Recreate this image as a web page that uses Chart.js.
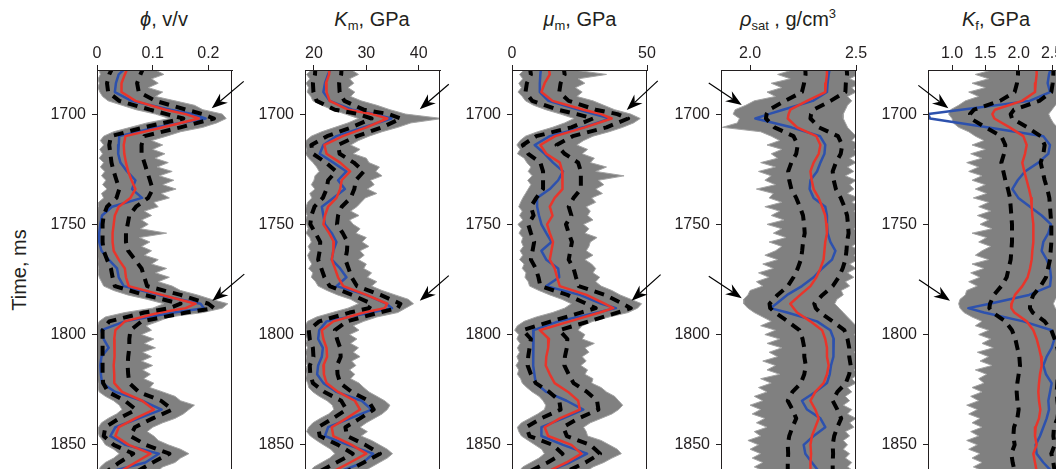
<!DOCTYPE html>
<html>
<head>
<meta charset="utf-8">
<title>Inversion results vs. time</title>
<script src="https://cdn.jsdelivr.net/npm/chart.js"></script>
<style>
  html, body { margin: 0; padding: 0; background: #fff; overflow: hidden; width: 1056px; height: 469px; }
  body { position: relative; font-family: 'Liberation Sans', Arial, sans-serif; color: #231f20; }
  canvas { position: absolute; top: 0; }
  .title { position: absolute; top: 7px; width: 200px; text-align: center; font-size: 20px; line-height: 24px; white-space: nowrap; }
  .title sub { font-size: 13px; vertical-align: -4px; line-height: 0; }
  .title sup { font-size: 13px; vertical-align: 8px; line-height: 0; }
  .ylab { position: absolute; left: 19px; top: 270px; transform: translate(-50%, -50%) rotate(-90deg); font-size: 20px; white-space: nowrap; }
</style>
</head>
<body>
<div class="ylab">Time, ms</div>
<div class="title" style="left:64px"><i>ϕ</i>, v/v</div>
<div class="title" style="left:272px"><i>K</i><sub>m</sub>, GPa</div>
<div class="title" style="left:480px"><i>μ</i><sub>m</sub>, GPa</div>
<div class="title" style="left:688px"><i>ρ</i><sub>sat</sub> , g/cm<sup>3</sup></div>
<div class="title" style="left:896px"><i>K</i><sub>f</sub>, GPa</div>

<canvas id="phi" width="215" height="511" style="left:42px"></canvas>
<canvas id="km" width="215" height="511" style="left:250px"></canvas>
<canvas id="mu" width="215" height="511" style="left:457px"></canvas>
<canvas id="rho" width="215" height="511" style="left:666px"></canvas>
<canvas id="kf" width="215" height="511" style="left:873px"></canvas>

<script>
// labelled times on the vertical axis
const timeTicks = [1700, 1750, 1800, 1850];

// time samples (ms) for the mean / true / bound curves
const tSmooth = [
  1678,1682,1686,1690,1694,1698,1700,1702,1706,1710,
  1714,1718,1722,1726,1730,1734,1738,1742,1746,1750,
  1754,1758,1762,1766,1770,1774,1778,1782,1786,1788,
  1790,1794,1798,1802,1806,1810,1814,1818,1822,1826,
  1830,1834,1838,1842,1846,1850,1854,1858,1862,1866
];

// time samples (ms) for the envelope of the realizations
const tBand = [
  1678,1680,1682,1684,1686,1688,1690,1692,1694,1696,
  1698,1700,1702,1704,1706,1708,1710,1712,1714,1716,
  1718,1720,1722,1724,1726,1728,1730,1732,1734,1736,
  1738,1740,1742,1744,1746,1748,1750,1752,1754,1756,
  1758,1760,1762,1764,1766,1768,1770,1772,1774,1776,
  1778,1780,1782,1784,1786,1788,1790,1792,1794,1796,
  1798,1800,1802,1804,1806,1808,1810,1812,1814,1816,
  1818,1820,1822,1824,1826,1828,1830,1832,1834,1836,
  1838,1840,1842,1844,1846,1848,1850,1852,1854,1856,
  1858,1860,1862,1864,1866
];

// porosity, v/v
const phiMean = [
  0.057,0.050,0.044,0.044,0.069,0.123,0.159,0.183,0.119,0.051,
  0.048,0.049,0.052,0.056,0.062,0.069,0.060,0.039,0.032,0.030,
  0.028,0.028,0.030,0.039,0.050,0.052,0.057,0.116,0.177,0.159,
  0.113,0.050,0.033,0.031,0.032,0.031,0.030,0.031,0.031,0.045,
  0.081,0.102,0.069,0.039,0.033,0.057,0.096,0.069,0.042,0.036
];
const phiTrue = [
  0.056,0.039,0.034,0.032,0.062,0.132,0.171,0.195,0.107,0.040,
  0.039,0.038,0.042,0.054,0.069,0.063,0.081,0.027,0.009,0.006,
  0.004,0.004,0.008,0.021,0.036,0.039,0.048,0.111,0.186,0.192,
  0.138,0.050,0.008,0.012,0.021,0.008,0.006,0.007,0.009,0.033,
  0.081,0.116,0.075,0.033,0.024,0.051,0.111,0.087,0.027,0.015
];
const phiLo = [
  0.030,0.022,0.018,0.020,0.040,0.095,0.125,0.155,0.085,0.025,
  0.022,0.024,0.026,0.030,0.035,0.040,0.035,0.018,0.012,0.010,
  0.010,0.010,0.012,0.018,0.025,0.028,0.032,0.085,0.150,0.130,
  0.085,0.022,0.010,0.010,0.010,0.010,0.010,0.010,0.011,0.020,
  0.050,0.070,0.040,0.015,0.012,0.030,0.065,0.040,0.018,0.015
];
const phiHi = [
  0.085,0.078,0.072,0.075,0.105,0.160,0.190,0.210,0.150,0.085,
  0.080,0.080,0.085,0.090,0.095,0.100,0.092,0.070,0.058,0.055,
  0.052,0.052,0.056,0.068,0.080,0.085,0.090,0.150,0.200,0.210,
  0.160,0.080,0.060,0.058,0.058,0.056,0.055,0.056,0.058,0.075,
  0.115,0.135,0.100,0.068,0.060,0.088,0.130,0.100,0.072,0.065
];
const phiEnvL = [
  0.010,0.004,0.006,0.002,0.004,0.002,0.005,0.010,0.020,0.045,
  0.070,0.105,0.130,0.090,0.060,0.030,0.012,0.006,0.012,0.005,
  0.010,0.004,0.012,0.006,0.014,0.008,0.016,0.010,0.018,0.008,
  0.012,0.003,0.002,0.001,0.000,0.001,0.000,0.001,0.000,0.001,
  0.000,0.001,0.000,0.001,0.002,0.001,0.003,0.002,0.004,0.008,
  0.012,0.030,0.055,0.090,0.120,0.100,0.050,0.015,0.004,0.001,
  0.000,0.001,0.000,0.001,0.000,0.001,0.000,0.001,0.000,0.001,
  0.000,0.001,0.002,0.002,0.004,0.015,0.030,0.040,0.045,0.035,
  0.020,0.008,0.003,0.002,0.004,0.010,0.015,0.030,0.040,0.030,
  0.015,0.006,0.003,0.002,0.002
];
const phiEnvR = [
  0.115,0.105,0.120,0.098,0.110,0.092,0.118,0.105,0.140,0.175,
  0.190,0.225,0.232,0.215,0.190,0.150,0.125,0.098,0.118,0.100,
  0.122,0.104,0.128,0.108,0.135,0.112,0.138,0.118,0.142,0.115,
  0.130,0.102,0.110,0.085,0.098,0.080,0.092,0.078,0.125,0.076,
  0.095,0.080,0.098,0.085,0.110,0.098,0.125,0.105,0.130,0.110,
  0.135,0.150,0.180,0.205,0.235,0.225,0.190,0.130,0.110,0.088,
  0.098,0.080,0.102,0.085,0.105,0.082,0.098,0.080,0.100,0.082,
  0.096,0.084,0.102,0.095,0.118,0.140,0.150,0.175,0.165,0.155,
  0.140,0.118,0.100,0.090,0.102,0.110,0.128,0.150,0.165,0.150,
  0.140,0.118,0.108,0.095,0.105
];

// mineral bulk modulus, GPa
const kmMean = [
  23.0,22.9,22.3,22.4,23.0,26.5,31.1,34.0,30.0,25.5,
  22.0,22.4,25.0,26.9,25.3,25.0,24.3,22.7,22.1,21.8,
  22.9,23.8,23.7,23.4,24.0,24.6,25.6,30.0,34.0,33.5,
  29.5,23.7,21.5,21.8,22.4,22.5,21.8,21.9,22.4,24.6,
  27.8,28.8,26.2,23.4,23.7,27.2,30.0,26.9,23.7,22.7
];
const kmTrue = [
  23.4,22.7,22.1,21.8,23.0,27.3,31.6,34.8,29.4,24.3,
  21.8,21.1,23.7,26.2,24.6,25.9,23.7,21.5,21.8,22.1,
  23.4,24.3,23.7,23.4,25.0,26.2,24.3,30.0,33.8,34.9,
  30.9,22.4,21.0,20.8,21.7,21.5,20.8,20.6,21.8,24.3,
  29.1,31.0,26.9,22.7,22.1,26.5,31.3,29.4,25.0,23.0
];
const kmLo = [
  20.3,20.2,19.8,19.9,20.5,24.0,28.5,31.0,27.2,22.5,
  19.5,19.8,22.3,24.2,22.7,22.4,21.7,20.1,19.5,19.3,
  20.3,21.2,21.1,20.8,21.4,22.0,23.0,27.3,31.0,30.5,
  26.8,21.0,19.0,19.2,19.8,19.9,19.2,19.3,19.8,22.0,
  25.2,26.2,23.6,20.8,21.1,24.6,27.4,24.3,21.1,20.1
];
const kmHi = [
  25.3,25.2,24.8,24.9,25.8,29.5,34.3,36.6,33.0,28.2,
  24.6,24.9,27.6,29.5,28.0,27.7,27.0,25.3,24.6,24.4,
  25.5,26.4,26.3,26.0,26.6,27.2,28.2,32.7,36.5,36.0,
  32.4,26.3,24.0,24.4,25.0,25.1,24.4,24.5,25.0,27.2,
  30.4,31.4,28.8,26.0,26.3,29.8,32.6,29.5,26.3,25.3
];
const kmEnvL = [
  18.8,19.5,18.6,19.2,18.5,19.0,18.7,19.4,19.8,21.5,
  23.5,26.0,28.5,26.5,24.0,21.5,19.5,18.5,18.3,18.6,
  18.4,19.0,19.8,20.5,21.0,20.2,20.0,19.5,20.2,19.2,
  19.6,18.8,18.5,18.3,18.7,18.4,18.6,18.9,18.5,19.2,
  19.5,18.9,19.3,18.8,19.1,19.6,19.0,19.8,19.5,20.3,
  20.8,22.5,24.5,27.0,28.5,26.5,23.5,20.5,18.8,18.3,
  18.5,18.3,18.7,18.4,18.8,18.3,18.6,18.4,18.7,18.3,
  18.6,18.4,18.8,19.0,19.8,21.0,22.5,23.5,23.8,22.8,
  21.2,19.8,19.0,18.6,19.3,20.5,21.8,23.2,24.0,23.0,
  21.5,20.0,19.2,18.8,18.5
];
const kmEnvR = [
  28.0,27.2,28.5,26.8,27.6,26.5,27.8,27.0,29.0,32.0,
  34.5,37.5,44.5,38.5,36.0,33.0,30.5,28.5,27.0,28.8,
  27.5,30.0,30.5,32.5,31.8,33.0,30.8,31.5,30.2,32.0,
  29.8,29.0,28.2,27.0,28.6,26.8,27.5,28.8,28.0,30.0,
  29.2,30.5,28.8,29.6,28.5,30.0,29.5,31.0,30.2,32.0,
  31.0,33.0,35.5,38.0,39.0,37.5,36.0,32.0,29.5,27.5,
  28.6,26.8,28.2,27.0,28.5,27.5,28.8,27.2,28.0,26.8,
  27.8,27.0,28.6,29.5,30.5,32.0,33.5,34.5,34.0,33.0,
  31.5,30.0,28.8,30.2,29.0,31.0,32.5,34.0,35.0,34.0,
  32.5,31.0,29.5,28.5,28.0
];

// mineral shear modulus, GPa
const muMean = [
  13.4,14.0,12.1,10.9,15.0,26.5,33.0,36.9,27.0,16.0,
  10.5,12.7,17.7,18.6,18.7,18.7,15.8,14.0,15.0,13.0,
  14.0,15.2,14.6,14.0,15.8,16.7,17.7,27.6,34.3,37.5,
  32.5,21.4,10.3,13.7,13.4,12.7,12.5,14.0,15.8,20.8,
  24.5,25.1,17.7,12.1,13.4,22.0,25.7,20.2,13.4,11.5
];
const muTrue = [
  10.9,10.5,10.3,10.3,13.5,24.8,30.3,36.5,26.4,14.0,
  8.4,12.1,15.2,18.9,17.1,14.0,9.3,9.3,10.0,10.9,
  12.7,14.6,10.9,12.7,17.1,17.5,12.7,25.1,33.2,38.5,
  31.6,17.2,8.0,7.8,7.8,7.8,8.0,8.3,8.8,12.7,
  20.2,26.4,18.9,10.9,10.9,18.9,27.8,21.4,13.4,11.5
];
const muLo = [
  6.5,7.0,5.5,5.0,7.5,17.0,24.0,30.0,22.0,9.0,
  4.0,6.0,10.5,11.5,11.5,11.5,9.0,7.0,8.0,6.0,
  7.0,8.2,7.6,7.0,8.8,9.8,10.5,20.5,27.5,31.0,
  25.5,14.5,4.0,7.0,6.5,6.0,5.8,7.0,8.8,13.8,
  17.5,18.0,10.8,5.3,6.5,15.0,18.7,13.2,6.5,5.0
];
const muHi = [
  19.0,19.5,18.0,17.5,21.0,31.0,39.0,43.0,35.0,22.5,
  16.5,19.5,24.5,25.5,25.5,25.5,22.8,21.0,22.0,20.0,
  21.0,22.2,21.6,21.0,22.8,23.7,24.7,34.5,41.0,44.0,
  39.0,28.5,17.5,20.5,20.3,19.6,19.4,21.0,22.8,27.8,
  31.5,32.0,24.6,19.0,20.3,29.0,32.6,27.2,20.3,18.5
];
const muEnvL = [
  3.0,4.5,2.8,4.0,2.5,3.5,2.2,3.8,5.0,8.0,
  12.5,18.0,23.0,19.5,15.0,9.5,5.0,3.0,1.8,3.0,
  2.0,4.5,5.5,7.0,6.0,7.5,5.8,7.0,6.0,5.0,
  4.0,3.2,2.5,3.8,2.8,4.0,2.2,3.5,2.6,4.0,
  3.5,4.2,3.0,4.0,2.8,4.5,3.8,5.2,4.8,6.0,
  6.5,10.0,14.0,18.5,22.0,19.5,15.0,9.0,4.5,2.0,
  1.0,2.5,1.8,3.0,2.0,2.8,1.8,2.5,1.5,2.5,
  2.0,3.2,3.8,5.5,7.5,10.0,11.5,12.5,12.0,9.5,
  6.5,3.5,2.0,2.5,3.5,6.0,8.5,11.0,12.0,10.0,
  7.0,4.0,2.5,2.0,1.8
];
const muEnvR = [
  25.0,23.0,35.0,24.5,27.0,23.5,26.0,24.0,30.0,34.0,
  38.0,44.0,47.5,45.0,41.0,36.0,30.0,26.5,24.0,28.0,
  26.0,30.5,29.0,35.0,31.0,41.5,32.0,34.0,31.0,33.5,
  29.5,31.0,27.5,29.0,28.0,30.0,26.5,28.5,27.0,31.5,
  29.0,28.5,27.5,30.0,27.0,29.5,31.0,30.0,32.5,31.0,
  33.0,37.0,40.0,44.0,48.0,46.5,43.0,36.0,30.0,26.0,
  24.5,27.0,26.0,30.5,27.0,28.5,26.0,27.5,25.5,28.0,
  27.0,30.0,29.5,33.0,35.0,38.0,39.5,41.0,39.5,37.0,
  33.0,29.0,26.5,27.5,28.0,33.0,36.0,39.0,40.5,37.0,
  34.0,30.0,27.5,26.0,25.0
];

// saturated density, g/cm3
const rhoMean = [
  2.363,2.363,2.358,2.355,2.269,2.190,2.182,2.178,2.222,2.313,
  2.332,2.324,2.300,2.285,2.291,2.300,2.324,2.340,2.355,2.360,
  2.363,2.355,2.351,2.347,2.332,2.313,2.285,2.237,2.190,2.206,
  2.222,2.285,2.340,2.355,2.363,2.363,2.371,2.363,2.347,2.308,
  2.285,2.308,2.324,2.308,2.292,2.285,2.288,2.285,2.285,2.281
];
const rhoTrue = [
  2.379,2.371,2.366,2.363,2.296,2.156,2.088,2.025,2.195,2.330,
  2.355,2.351,2.332,2.316,2.285,2.281,2.300,2.355,2.363,2.363,
  2.366,2.379,2.403,2.387,2.340,2.300,2.245,2.175,2.124,2.096,
  2.175,2.316,2.379,2.395,2.395,2.392,2.382,2.376,2.363,2.308,
  2.245,2.269,2.332,2.355,2.300,2.253,2.261,2.292,2.324,2.340
];
const rhoLo = [
  2.260,2.262,2.255,2.245,2.165,2.090,2.078,2.075,2.115,2.205,
  2.225,2.218,2.195,2.180,2.185,2.195,2.218,2.235,2.250,2.255,
  2.258,2.250,2.246,2.240,2.225,2.205,2.178,2.130,2.092,2.095,
  2.118,2.178,2.233,2.248,2.256,2.256,2.263,2.256,2.240,2.200,
  2.178,2.200,2.218,2.200,2.185,2.178,2.180,2.178,2.178,2.175
];
const rhoHi = [
  2.455,2.458,2.452,2.450,2.380,2.300,2.288,2.285,2.325,2.415,
  2.435,2.428,2.405,2.390,2.395,2.405,2.428,2.445,2.458,2.462,
  2.465,2.458,2.455,2.450,2.437,2.418,2.390,2.342,2.303,2.310,
  2.330,2.390,2.445,2.460,2.468,2.468,2.475,2.468,2.452,2.412,
  2.390,2.412,2.430,2.412,2.397,2.390,2.392,2.390,2.390,2.386
];
const rhoEnvL = [
  2.16,2.20,2.13,2.19,2.10,2.15,2.08,2.12,2.02,1.98,
  1.93,1.92,1.95,1.94,1.87,2.05,2.10,2.14,2.08,2.15,
  2.10,2.13,2.05,2.12,2.04,2.10,2.07,2.12,2.03,2.11,
  2.09,2.15,2.07,2.14,2.10,2.16,2.08,2.15,2.11,2.17,
  2.09,2.15,2.12,2.07,2.13,2.06,2.11,2.04,2.09,2.03,
  2.06,2.00,1.99,1.97,1.97,1.99,2.02,2.06,2.10,2.05,
  2.12,2.07,2.14,2.08,2.15,2.09,2.13,2.06,2.12,2.08,
  2.14,2.05,2.10,2.04,2.08,2.02,2.06,2.00,2.05,2.01,
  2.07,2.03,2.08,2.02,2.05,1.99,2.04,2.00,2.05,2.01,
  2.06,2.02,2.07,2.03,2.05
];
const rhoEnvR = [
  2.52,2.49,2.51,2.47,2.52,2.48,2.50,2.46,2.48,2.46,
  2.45,2.44,2.44,2.45,2.46,2.48,2.50,2.48,2.52,2.49,
  2.51,2.47,2.50,2.46,2.49,2.45,2.50,2.47,2.49,2.46,
  2.51,2.48,2.52,2.49,2.51,2.50,2.52,2.49,2.52,2.50,
  2.51,2.48,2.52,2.49,2.51,2.47,2.50,2.46,2.49,2.45,
  2.47,2.43,2.44,2.41,2.40,2.42,2.44,2.46,2.48,2.50,
  2.52,2.49,2.52,2.50,2.52,2.49,2.52,2.50,2.52,2.49,
  2.51,2.48,2.50,2.46,2.48,2.45,2.47,2.44,2.48,2.46,
  2.50,2.47,2.49,2.45,2.47,2.44,2.46,2.44,2.47,2.45,
  2.48,2.46,2.49,2.47,2.48
];

// fluid bulk modulus, GPa
const kfMean = [
  2.270,2.270,2.255,2.245,2.050,1.645,1.605,1.635,1.865,2.070,
  2.120,2.095,2.055,2.085,2.120,2.155,2.185,2.195,2.205,2.220,
  2.220,2.220,2.205,2.195,2.170,2.135,2.055,1.945,1.895,1.890,
  1.935,2.120,2.220,2.270,2.305,2.335,2.345,2.320,2.305,2.295,
  2.305,2.325,2.305,2.255,2.245,2.270,2.220,2.245,2.270,2.285
];
const kfTrue = [
  2.495,2.455,2.435,2.470,2.165,1.140,0.645,0.670,1.525,2.370,
  2.470,2.445,2.295,2.095,1.985,1.905,1.995,2.170,2.345,2.485,
  2.445,2.370,2.345,2.420,2.470,2.485,2.470,2.155,1.565,1.245,
  1.480,2.070,2.495,2.535,2.495,2.420,2.370,2.410,2.495,2.470,
  2.445,2.455,2.420,2.370,2.320,2.255,2.270,2.370,2.495,2.545
];
const kfLo = [
  1.99,1.99,1.975,1.94,1.72,1.33,1.27,1.28,1.50,1.74,
  1.80,1.78,1.74,1.77,1.80,1.84,1.87,1.88,1.89,1.90,
  1.90,1.90,1.89,1.88,1.85,1.82,1.74,1.63,1.57,1.56,
  1.61,1.80,1.90,1.95,1.98,2.01,2.02,2.00,1.98,1.97,
  1.98,2.00,1.98,1.93,1.92,1.94,1.89,1.91,1.94,1.96
];
const kfHi = [
  2.52,2.52,2.51,2.49,2.31,1.93,1.88,1.90,2.13,2.33,
  2.39,2.37,2.33,2.36,2.39,2.43,2.46,2.47,2.48,2.49,
  2.49,2.49,2.48,2.47,2.44,2.41,2.33,2.22,2.17,2.17,
  2.21,2.39,2.49,2.54,2.58,2.61,2.62,2.59,2.58,2.57,
  2.58,2.60,2.58,2.53,2.52,2.54,2.49,2.52,2.54,2.56
];
const kfEnvL = [
  1.45,1.60,1.35,1.55,1.30,1.50,1.25,1.40,1.20,1.10,
  0.98,0.95,1.00,1.02,1.10,1.25,1.35,1.48,1.30,1.50,
  1.28,1.45,1.22,1.40,1.25,1.45,1.30,1.50,1.35,1.52,
  1.32,1.55,1.40,1.58,1.38,1.55,1.42,1.60,1.30,1.52,
  1.40,1.58,1.45,1.35,1.55,1.30,1.48,1.28,1.42,1.25,
  1.38,1.22,1.20,1.12,1.10,1.12,1.18,1.30,1.45,1.35,
  1.55,1.40,1.58,1.45,1.62,1.38,1.55,1.42,1.60,1.35,
  1.52,1.40,1.48,1.30,1.45,1.28,1.40,1.22,1.38,1.25,
  1.42,1.30,1.45,1.28,1.40,1.22,1.38,1.25,1.42,1.30,
  1.45,1.32,1.48,1.35,1.45
];
const kfEnvR = [
  2.80,2.72,2.85,2.75,2.82,2.70,2.78,2.68,2.62,2.55,
  2.50,2.45,2.48,2.52,2.58,2.65,2.75,2.70,2.82,2.74,
  2.85,2.72,2.80,2.70,2.84,2.73,2.78,2.70,2.86,2.75,
  2.82,2.72,2.85,2.76,2.80,2.71,2.84,2.74,2.80,2.72,
  2.86,2.75,2.80,2.70,2.83,2.74,2.78,2.70,2.76,2.68,
  2.72,2.65,2.60,2.55,2.52,2.55,2.60,2.68,2.75,2.80,
  2.86,2.78,2.88,2.80,2.90,2.82,2.88,2.80,2.86,2.78,
  2.85,2.76,2.84,2.75,2.82,2.74,2.85,2.76,2.86,2.78,
  2.84,2.75,2.82,2.74,2.80,2.72,2.82,2.74,2.84,2.76,
  2.82,2.75,2.85,2.78,2.84
];

const INK = '#231f20';
const FONT = "'Liberation Sans', Arial, sans-serif";

// axis setup for each track; arrows mark the two events (tip in data units, tail offset in px)
const tracks = [
  { id: 'phi', min: 0, max: 0.2424, step: 0.1, fmt: v => String(v),
    mean: phiMean, truth: phiTrue, lo: phiLo, hi: phiHi, envL: phiEnvL, envR: phiEnvR,
    arrows: [{ x: 0.206, t: 1697.4, dx: 32, dy: -27 }, { x: 0.207, t: 1784.8, dx: 32, dy: -27 }] },
  { id: 'km', min: 18.29, max: 44.06, step: 10, fmt: v => String(v),
    mean: kmMean, truth: kmTrue, lo: kmLo, hi: kmHi, envL: kmEnvL, envR: kmEnvR,
    arrows: [{ x: 40.2, t: 1697.8, dx: 29, dy: -25 }, { x: 40.2, t: 1784.6, dx: 29, dy: -25 }] },
  { id: 'mu', min: 0, max: 50, step: 50, fmt: v => String(v),
    mean: muMean, truth: muTrue, lo: muLo, hi: muHi, envL: muEnvL, envR: muEnvR,
    arrows: [{ x: 42.5, t: 1698.1, dx: 31, dy: -29 }, { x: 44.3, t: 1784.6, dx: 29, dy: -26 }] },
  { id: 'rho', min: 1.863, max: 2.5, step: 0.5, fmt: v => v.toFixed(1),
    mean: rhoMean, truth: rhoTrue, lo: rhoLo, hi: rhoHi, envL: rhoEnvL, envR: rhoEnvR,
    arrows: [{ x: 1.961, t: 1695.9, dx: -33, dy: -22 }, { x: 1.961, t: 1783.5, dx: -33, dy: -22 }] },
  { id: 'kf', min: 0.64, max: 2.665, step: 0.5, fmt: v => v.toFixed(1),
    mean: kfMean, truth: kfTrue, lo: kfLo, hi: kfHi, envL: kfEnvL, envR: kfEnvR,
    arrows: [{ x: 0.945, t: 1697.4, dx: -30, dy: -23 }, { x: 0.97, t: 1784.6, dx: -31, dy: -21 }] }
];

const pts = (vals, times) => vals.map((v, i) => ({ x: v, y: times[i] }));

function drawArrow(ctx, tx, ty, fx, fy) {
  const ang = Math.atan2(ty - fy, tx - fx);
  const len = 16, half = 6, notch = 5;
  ctx.beginPath();
  ctx.moveTo(fx, fy);
  ctx.lineTo(tx - Math.cos(ang) * (len - notch), ty - Math.sin(ang) * (len - notch));
  ctx.stroke();
  ctx.save();
  ctx.translate(tx, ty);
  ctx.rotate(ang);
  ctx.beginPath();
  ctx.moveTo(0, 0);
  ctx.lineTo(-len, -half);
  ctx.lineTo(-len + notch, 0);
  ctx.lineTo(-len, half);
  ctx.closePath();
  ctx.fill();
  ctx.restore();
}

// box around the plot area plus the event arrows
const trackFrame = {
  id: 'trackFrame',
  afterDatasetsDraw(chart) {
    const { ctx, chartArea: a } = chart;
    ctx.save();
    ctx.strokeStyle = INK;
    ctx.lineWidth = 1;
    ctx.beginPath();
    ctx.moveTo(a.left + 0.5, a.bottom);
    ctx.lineTo(a.left + 0.5, a.top + 0.5);
    ctx.lineTo(a.right - 0.5, a.top + 0.5);
    ctx.lineTo(a.right - 0.5, a.bottom);
    ctx.stroke();
    ctx.restore();
  },
  afterDraw(chart, args, opts) {
    const { ctx, scales } = chart;
    ctx.save();
    ctx.strokeStyle = '#000';
    ctx.fillStyle = '#000';
    ctx.lineWidth = 1.2;
    (opts.arrows || []).forEach(a => {
      const tx = scales.x.getPixelForValue(a.x);
      const ty = scales.y.getPixelForValue(a.t);
      drawArrow(ctx, tx, ty, tx + a.dx, ty + a.dy);
    });
    ctx.restore();
  }
};

tracks.forEach(tr => {
  const line = (data, color, width, dash) => ({
    data, borderColor: color, borderWidth: width, borderDash: dash || [],
    pointRadius: 0, fill: false, clip: 0, borderCapStyle: 'butt', borderJoinStyle: 'round'
  });
  new Chart(document.getElementById(tr.id), {
    type: 'line',
    data: {
      datasets: [
        line(pts(tr.lo, tSmooth), '#000', 4, [10, 7]),
        line(pts(tr.hi, tSmooth), '#000', 4, [10, 7]),
        line(pts(tr.mean, tSmooth), '#e8352b', 2.5),
        line(pts(tr.truth, tSmooth), '#2d51ad', 2.5),
        line(pts(tr.envL, tBand), '#a3a3a3', 1),
        Object.assign(line(pts(tr.envR, tBand), '#a3a3a3', 1), { fill: '-1', backgroundColor: '#808080' })
      ]
    },
    options: {
      responsive: false,
      animation: false,
      events: [],
      indexAxis: 'y',
      layout: { padding: { left: 0, right: 25, top: 0, bottom: 0 } },
      elements: { line: { tension: 0 }, point: { radius: 0 } },
      plugins: {
        legend: { display: false },
        tooltip: { enabled: false },
        trackFrame: { arrows: tr.arrows }
      },
      scales: {
        x: {
          type: 'linear', position: 'top', min: tr.min, max: tr.max,
          grid: { drawOnChartArea: false, tickLength: 5, color: INK },
          border: { display: true, color: INK, width: 1 },
          ticks: { stepSize: tr.step, includeBounds: false, autoSkip: false, maxRotation: 0,
                   padding: 2, color: INK, font: { family: FONT, size: 16 }, callback: tr.fmt },
          afterFit(s) { s.height = 70; }
        },
        y: {
          type: 'linear', reverse: true, min: 1680, max: 1880,
          grid: { drawOnChartArea: false, tickLength: 5, color: INK },
          border: { display: true, color: INK, width: 1 },
          ticks: { autoSkip: false, padding: 6, color: INK,
                   font: { family: FONT, size: 16 }, callback: v => String(v) },
          afterBuildTicks(s) { s.ticks = timeTicks.map(v => ({ value: v })); },
          afterFit(s) { s.width = 55; s.paddingTop = 0; s.paddingBottom = 0; }
        }
      }
    },
    plugins: [trackFrame]
  });
});
</script>
</body>
</html>
